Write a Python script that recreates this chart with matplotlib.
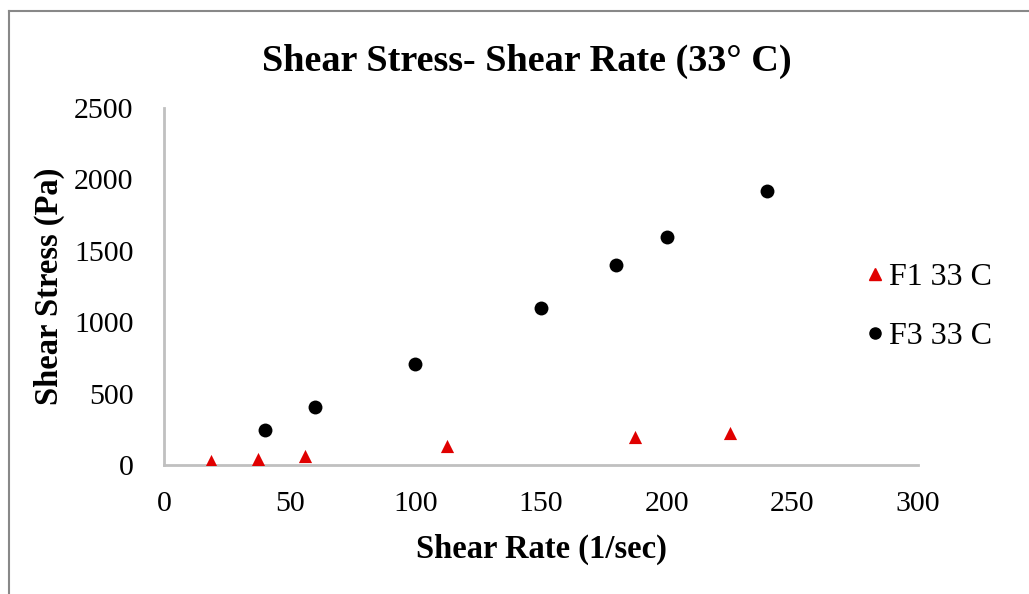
import matplotlib
matplotlib.use("Agg")
import matplotlib.pyplot as plt
from matplotlib.lines import Line2D

f1_x = [18.75, 37.5, 56.25, 112.5, 187.5, 225]
f1_y = [25, 43, 65, 135, 195, 225]
f3_x = [40, 60, 100, 150, 180, 200, 240]
f3_y = [245, 405, 710, 1100, 1400, 1600, 1920]

title = "Shear Stress- Shear Rate (33° C)"
xlabel = "Shear Rate (1/sec)"
ylabel = "Shear Stress (Pa)"
legend_labels = ['F1 33 C', 'F3 33 C']
xticks = [0, 50, 100, 150, 200, 250, 300]
yticks = [0, 500, 1000, 1500, 2000, 2500]

plt.rcParams['font.family'] = ['Liberation Serif', 'DejaVu Serif']

W, H = 1029, 594
fig = plt.figure(figsize=(W/100, H/100), dpi=100)
L, R, B, T = 164, 918, 465, 108
ax = fig.add_axes([L/W, 1-B/H, (R-L)/W, (B-T)/H])

red = '#e00000'
ax.scatter(f1_x, f1_y, marker='^', s=90, color=red, linewidths=0, zorder=3)
ax.scatter(f3_x, f3_y, marker='o', s=100, color='black', linewidths=0, zorder=3)

ax.set_xlim(0, 300)
ax.set_ylim(0, 2500)
ax.set_xticks(xticks)
ax.set_yticks(yticks)
ax.tick_params(length=0, labelsize=21.5)
ax.tick_params(axis='y', pad=22)
ax.tick_params(axis='x', pad=19)
for s in ['top', 'right']:
    ax.spines[s].set_visible(False)
for s in ['left', 'bottom']:
    ax.spines[s].set_color('#c0c0c0')
    ax.spines[s].set_linewidth(2)

ax.set_xlabel(xlabel, fontsize=23.5, fontweight='bold', va='center')
ax.xaxis.set_label_coords(0.5, (B-549)/(B-T))
ax.set_ylabel(ylabel, fontsize=23.5, fontweight='bold', va='center')
ax.yaxis.set_label_coords((49-L)/(R-L), 0.5)

fig.text(527/W, 1-61/H, title, fontsize=27.5, fontweight='bold', ha='center', va='center')

handles = [Line2D([], [], marker='^', color=red, linestyle='none', markersize=9),
           Line2D([], [], marker='o', color='black', linestyle='none', markersize=8)]
fig.legend(handles, legend_labels, loc='center left',
           bbox_to_anchor=(849/W, 1-307/H), frameon=False, fontsize=23,
           handletextpad=0.05, labelspacing=0.94, handlelength=0.8, borderaxespad=0)

# outer border (top & left)
fig.add_artist(Line2D([9/W, 1], [1-11/H, 1-11/H], transform=fig.transFigure, color='#888888', lw=1.5))
fig.add_artist(Line2D([9/W, 9/W], [0, 1-11/H], transform=fig.transFigure, color='#888888', lw=1.5))

fig.savefig('out.png', dpi=100)
